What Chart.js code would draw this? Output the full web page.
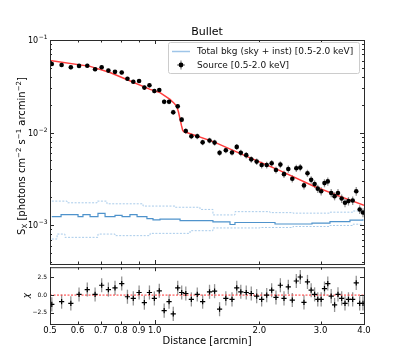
<!DOCTYPE html>
<html>
<head>
<meta charset="utf-8">
<script src="https://cdn.jsdelivr.net/npm/chart.js@4.4.0/dist/chart.umd.min.js"></script>
<style>
  html, body { margin: 0; padding: 0; background: #fff; }
  #wrap { position: relative; width: 407px; height: 362px; overflow: hidden; }
  canvas { position: absolute; left: 0; }
</style>
</head>
<body>
<div id="wrap">
  <canvas id="profile" width="407" height="268" style="top:0"></canvas>
  <canvas id="resid" width="407" height="100" style="top:262px"></canvas>
</div>
<script>
// --- data ---
const distance = [0.506, 0.540, 0.574, 0.606, 0.640, 0.674, 0.704, 0.736, 0.769, 0.804,
  0.835, 0.868, 0.902, 0.934, 0.966, 0.998, 1.031, 1.065, 1.100, 1.131,
  1.165, 1.196, 1.229, 1.275, 1.326, 1.374, 1.438, 1.487, 1.537, 1.602,
  1.669, 1.722, 1.769, 1.834, 1.896, 1.965, 2.031, 2.100, 2.170, 2.233,
  2.299, 2.355, 2.423, 2.488, 2.555, 2.623, 2.688, 2.751, 2.819, 2.884,
  2.945, 3.012, 3.079, 3.147, 3.219, 3.292, 3.367, 3.450, 3.527, 3.609,
  3.711, 3.800, 3.887, 3.973];
const sx = [0.0551, 0.0537, 0.0507, 0.0525, 0.0528, 0.0483, 0.0507, 0.0467, 0.0453, 0.0445,
  0.0381, 0.0354, 0.0361, 0.0306, 0.0324, 0.0281, 0.0288, 0.0215, 0.0215, 0.01656,
  0.0192, 0.0138, 0.01039, 0.00914, 0.00914, 0.00785, 0.00823, 0.00780, 0.00605, 0.00645,
  0.00610, 0.00701, 0.00605, 0.00571, 0.00514, 0.00486, 0.00447, 0.00447, 0.00466, 0.00395,
  0.00451, 0.00356, 0.00405, 0.00317, 0.00412, 0.00419, 0.00269, 0.00364, 0.00309, 0.00278,
  0.00248, 0.00233, 0.00285, 0.00297, 0.00223, 0.00206, 0.00223, 0.00194, 0.00175, 0.00182,
  0.00185, 0.00233, 0.00148, 0.00137];
// fractional 1-sigma errors
const sxErr = [0.05, 0.05, 0.05, 0.05, 0.05, 0.05, 0.05, 0.05, 0.05, 0.05,
  0.05, 0.05, 0.05, 0.055, 0.055, 0.055, 0.055, 0.06, 0.06, 0.065,
  0.06, 0.065, 0.07, 0.07, 0.07, 0.07, 0.07, 0.075, 0.075, 0.075,
  0.075, 0.075, 0.08, 0.08, 0.08, 0.08, 0.085, 0.085, 0.085, 0.085,
  0.085, 0.09, 0.09, 0.09, 0.09, 0.09, 0.095, 0.09, 0.095, 0.095,
  0.10, 0.10, 0.10, 0.10, 0.10, 0.10, 0.10, 0.105, 0.105, 0.105,
  0.105, 0.11, 0.11, 0.11];
const chi = [-1.31, -0.93, -1.17, 0.09, 0.79, 0.09, 1.40, 0.79, 1.03, 1.64,
  -0.23, -0.47, 0.37, -1.07, 0.37, -0.47, 0.61, -2.20, -0.93, -2.66,
  1.03, 0.37, 0.23, -0.61, 0.09, -0.93, 0.47, 0.56, -2.00, -0.47,
  -0.60, 1.03, 0.47, 0.37, 0.23, -0.14, -0.61, 0.00, 0.70, -0.33,
  1.40, -0.47, 1.17, -0.70, 2.00, 2.57, -1.03, 1.87, 0.70, 0.10,
  -0.60, -0.60, 0.93, 1.64, -0.14, -1.40, 0.10, -0.47, -1.17, -0.60,
  -0.60, 1.73, -1.17, -1.17];

const modelDist = [0.5, 0.652, 0.744, 0.831, 0.970, 1.036, 1.107, 1.137, 1.157, 1.171, 1.183,
  1.195, 1.204, 1.214, 1.236, 1.474, 1.839, 2.293, 2.859, 3.412, 4.0];
const modelSx = [0.0602, 0.0519, 0.0445, 0.0375, 0.0293, 0.0270, 0.0229, 0.0208, 0.0192, 0.0167, 0.0140,
  0.0118, 0.01054, 0.01021, 0.01001, 0.00799, 0.00553, 0.00388, 0.00265, 0.00205, 0.00164];

const bkgDist = [0.506, 0.538, 0.602, 0.622, 0.652, 0.687, 0.720, 0.769, 0.806, 0.849, 0.890, 0.950,
  0.989, 1.036, 1.183, 1.471, 1.647, 1.702, 2.219, 2.834, 3.193, 3.645, 3.97];
const bkgSx = [0.001238, 0.001300, 0.001238, 0.001300, 0.001238, 0.001342, 0.001238, 0.001278, 0.001238,
  0.001300, 0.001238, 0.001179, 0.001142, 0.001165, 0.001122, 0.001087, 0.001017, 0.001069, 0.001030,
  0.001055, 0.001095, 0.001136, 0.001159];
const bkgHiDist = [0.506, 0.560, 0.683, 0.729, 0.926, 1.144, 1.350, 1.471, 1.702, 2.146, 2.499, 3.193, 3.718, 3.97];
const bkgHi = [0.00182, 0.001745, 0.00182, 0.001702, 0.001609, 0.001562, 0.001480, 0.001291, 0.001400,
  0.001366, 0.001349, 0.001382, 0.001423, 0.001434];
const bkgLoDist = [0.506, 0.524, 0.552, 0.687, 0.769, 0.970, 1.264, 1.471, 2.009, 2.499, 3.193, 3.718, 3.97];
const bkgLo = [0.000709, 0.000802, 0.000739, 0.000802, 0.000771, 0.000816, 0.000872, 0.000934, 0.000945,
  0.000968, 0.000993, 0.001025, 0.001025];

const xTicks = [0.5, 0.6, 0.7, 0.8, 0.9, 1.0, 2.0, 3.0, 4.0];
const xTickLabels = ['0.5', '0.6', '0.7', '0.8', '0.9', '1.0', '2.0', '3.0', '4.0'];
const sxDecades = [1e-1, 1e-2, 1e-3];
const sxDecadeLabels = ['\u22121', '\u22122', '\u22123'];
const chiTicks = [2.5, 0, -2.5];
const chiTickLabels = ['2.5', '0.0', '\u22122.5'];

const FONT = 'DejaVu Sans';
const pts = (xs, ys) => xs.map((x, i) => ({ x: x, y: ys[i] }));

function tick(ctx, x1, y1, x2, y2) {
  ctx.beginPath(); ctx.moveTo(x1, y1); ctx.lineTo(x2, y2); ctx.stroke();
}

// error bars drawn under the markers, through the chart's scales
const errorBars = {
  id: 'errorBars',
  beforeDatasetsDraw(chart, args, opts) {
    const { ctx, scales: { x, y } } = chart;
    ctx.save();
    ctx.strokeStyle = 'rgba(0,0,0,0.42)';
    ctx.lineWidth = 1.3;
    opts.xs.forEach((d, i) => {
      const px = x.getPixelForValue(d);
      const v = opts.ys[i];
      const lo = opts.rel ? v * (1 - opts.err[i]) : v - opts.err;
      const hi = opts.rel ? v * (1 + opts.err[i]) : v + opts.err;
      tick(ctx, px, y.getPixelForValue(lo), px, y.getPixelForValue(hi));
    });
    ctx.restore();
  }
};

function frame(chart, yMajor, yMinor) {
  const { ctx, chartArea: a, scales: { x, y } } = chart;
  ctx.save();
  ctx.strokeStyle = '#2b2b2b';
  ctx.lineWidth = 1;
  ctx.strokeRect(a.left + 0.5, a.top + 0.5, a.right - a.left, a.bottom - a.top);
  xTicks.forEach(v => {
    const px = Math.round(x.getPixelForValue(v)) + 0.5;
    const len = v === 1 ? 4 : 2.5;
    tick(ctx, px, a.top, px, a.top + len);
    tick(ctx, px, a.bottom, px, a.bottom - len);
  });
  yMajor.forEach(v => {
    const py = Math.round(y.getPixelForValue(v)) + 0.5;
    tick(ctx, a.left, py, a.left + 4, py);
    tick(ctx, a.right, py, a.right - 4, py);
  });
  yMinor.forEach(v => {
    const py = Math.round(y.getPixelForValue(v)) + 0.5;
    tick(ctx, a.left, py, a.left + 2, py);
    tick(ctx, a.right, py, a.right - 2, py);
  });
  ctx.restore();
}

const profileAxes = {
  id: 'profileAxes',
  afterDraw(chart) {
    const { ctx, chartArea: a, scales: { y } } = chart;
    const minor = [];
    [1e-4, 1e-3, 1e-2].forEach(dec => {
      for (let k = 2; k <= 9; k++) {
        const v = k * dec;
        if (v > y.min && v < y.max) minor.push(v);
      }
    });
    frame(chart, sxDecades, minor);
    ctx.save();
    ctx.fillStyle = '#000';
    // decade labels 10^n
    sxDecades.forEach((v, i) => {
      const py = y.getPixelForValue(v);
      ctx.font = '8px ' + FONT;
      const w10 = ctx.measureText('10').width;
      ctx.font = '6px ' + FONT;
      const ws = ctx.measureText(sxDecadeLabels[i]).width;
      const x0 = a.left - 3 - w10 - ws;
      ctx.textBaseline = 'alphabetic';
      ctx.font = '8px ' + FONT;
      ctx.fillText('10', x0, py + 3);
      ctx.font = '6px ' + FONT;
      ctx.fillText(sxDecadeLabels[i], x0 + w10 + 0.5, py - 1);
    });
    // title
    ctx.font = '11px ' + FONT;
    ctx.textAlign = 'center';
    ctx.textBaseline = 'middle';
    ctx.fillText('Bullet', (a.left + a.right) / 2, 32.5);
    // y axis label with sub/superscripts
    const parts = [
      ['S', 10, 0], ['X', 7, 2.5], [' [photons cm', 10, 0], ['\u22122', 7, -4],
      [' s', 10, 0], ['\u22121', 7, -4], [' arcmin', 10, 0], ['\u22122', 7, -4], [']', 10, 0]
    ];
    let total = 0;
    parts.forEach(p => { ctx.font = p[1] + 'px ' + FONT; p.w = ctx.measureText(p[0]).width; total += p.w; });
    ctx.translate(21, (a.top + a.bottom) / 2 + 4);
    ctx.rotate(-Math.PI / 2);
    ctx.textAlign = 'left';
    ctx.textBaseline = 'alphabetic';
    let px = -total / 2;
    parts.forEach(p => {
      ctx.font = p[1] + 'px ' + FONT;
      ctx.fillText(p[0], px, 3.5 + p[2]);
      px += p.w;
    });
    ctx.restore();

    // legend
    ctx.save();
    const lx = 168.5, ly = 42.5, lw = 191, lh = 31;
    ctx.fillStyle = 'rgba(255,255,255,0.85)';
    ctx.strokeStyle = '#cccccc';
    ctx.lineWidth = 1;
    ctx.beginPath();
    ctx.roundRect(lx, ly, lw, lh, 2);
    ctx.fill(); ctx.stroke();
    ctx.strokeStyle = '#9fc5e8';
    ctx.lineWidth = 1.5;
    tick(ctx, 172, 51.5, 190, 51.5);
    ctx.strokeStyle = 'rgba(0,0,0,0.5)';
    ctx.lineWidth = 1.2;
    tick(ctx, 181, 60.5, 181, 69.5);
    tick(ctx, 177, 65, 185, 65);
    ctx.fillStyle = '#000';
    ctx.beginPath(); ctx.arc(181, 65, 2.4, 0, Math.PI * 2); ctx.fill();
    ctx.font = '9px ' + FONT;
    ctx.textBaseline = 'middle';
    ctx.fillStyle = '#111';
    ctx.fillText('Total bkg (sky + inst) [0.5-2.0 keV]', 197, 52);
    ctx.fillText('Source [0.5-2.0 keV]', 197, 65.5);
    ctx.restore();
  }
};

const residAxes = {
  id: 'residAxes',
  beforeDatasetsDraw(chart) {
    const { ctx, chartArea: a, scales: { y } } = chart;
    const py = y.getPixelForValue(0);
    ctx.save();
    ctx.strokeStyle = 'rgba(255,60,60,0.6)';
    ctx.lineWidth = 1.6;
    ctx.setLineDash([2, 1.5]);
    tick(ctx, a.left, py, a.right, py);
    ctx.restore();
  },
  afterDraw(chart) {
    const { ctx, chartArea: a, scales: { x, y } } = chart;
    frame(chart, chiTicks, []);
    ctx.save();
    ctx.fillStyle = '#000';
    ctx.font = '6px ' + FONT;
    ctx.textAlign = 'right';
    ctx.textBaseline = 'middle';
    chiTicks.forEach((v, i) => ctx.fillText(chiTickLabels[i], a.left - 3, y.getPixelForValue(v)));
    ctx.font = '8.5px ' + FONT;
    ctx.textAlign = 'center';
    ctx.textBaseline = 'top';
    xTicks.forEach((v, i) => ctx.fillText(xTickLabels[i], x.getPixelForValue(v), a.bottom + 2.5));
    ctx.font = '10px ' + FONT;
    ctx.textBaseline = 'middle';
    ctx.fillText('Distance [arcmin]', (a.left + a.right) / 2, a.bottom + 17.5);
    ctx.translate(27, (a.top + a.bottom) / 2);
    ctx.rotate(-Math.PI / 2);
    ctx.font = 'italic 9px ' + FONT;
    ctx.fillText('\u03c7', 0, 0);
    ctx.restore();
  }
};

const logX = { type: 'logarithmic', min: 0.5, max: 4, display: false };

new Chart(document.getElementById('profile'), {
  type: 'scatter',
  data: {
    datasets: [
      { label: 'Source [0.5-2.0 keV]', data: pts(distance, sx), pointStyle: 'circle', pointRadius: 2.3,
        backgroundColor: '#000', borderColor: '#000', borderWidth: 0 },
      { label: 'model', data: pts(modelDist, modelSx), showLine: true, pointRadius: 0,
        borderColor: 'rgba(255,40,40,0.9)', borderWidth: 1.5, tension: 0 },
      { label: 'Total bkg (sky + inst) [0.5-2.0 keV]', data: pts(bkgDist, bkgSx), showLine: true, pointRadius: 0,
        stepped: 'before', borderColor: '#4f93cc', borderWidth: 1.2 },
      { label: 'bkg hi', data: pts(bkgHiDist, bkgHi), showLine: true, pointRadius: 0,
        stepped: 'before', borderColor: '#a8cbea', borderWidth: 1, borderDash: [2, 1.5] },
      { label: 'bkg lo', data: pts(bkgLoDist, bkgLo), showLine: true, pointRadius: 0,
        stepped: 'before', borderColor: '#a8cbea', borderWidth: 1, borderDash: [2, 1.5] }
    ]
  },
  options: {
    responsive: false,
    animation: false,
    layout: { padding: { left: 50, right: 43, top: 40, bottom: 1 } },
    scales: {
      x: logX,
      y: { type: 'logarithmic', min: 3.81e-4, max: 0.1, display: false }
    },
    plugins: {
      legend: { display: false },
      tooltip: { enabled: false },
      errorBars: { xs: distance, ys: sx, err: sxErr, rel: true }
    }
  },
  plugins: [errorBars, profileAxes]
});

new Chart(document.getElementById('resid'), {
  type: 'scatter',
  data: {
    datasets: [
      { label: 'chi', data: pts(distance, chi), pointStyle: 'cross', pointRadius: 2.6,
        borderColor: '#000', borderWidth: 1.2 }
    ]
  },
  options: {
    responsive: false,
    animation: false,
    layout: { padding: { left: 50, right: 43, top: 5, bottom: 38 } },
    scales: {
      x: logX,
      y: { type: 'linear', min: -4.1, max: 3.96, display: false }
    },
    plugins: {
      legend: { display: false },
      tooltip: { enabled: false },
      errorBars: { xs: distance, ys: chi, err: 1, rel: false }
    }
  },
  plugins: [errorBars, residAxes]
});
</script>
</body>
</html>
